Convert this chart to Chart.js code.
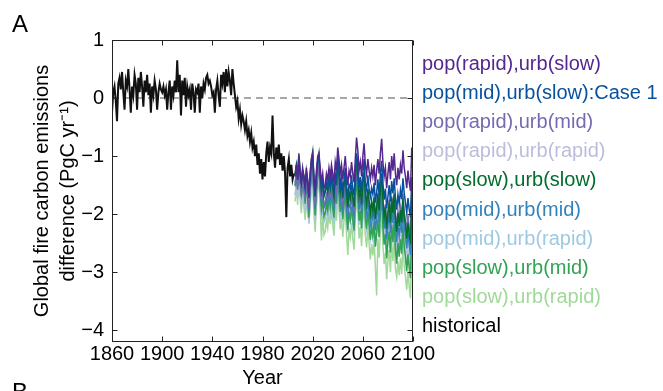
<!DOCTYPE html>
<html>
<head>
<meta charset="utf-8">
<script src="https://cdn.jsdelivr.net/npm/chart.js@4.4.1/dist/chart.umd.min.js"></script>
<style>
html, body { margin: 0; padding: 0; background: #fff; }
#wrap { position: relative; width: 663px; height: 391px; }
</style>
</head>
<body>
<div id="wrap"><canvas id="myChart" width="663" height="391"></canvas></div>
<script>
// Step 1: data (PgC/yr difference)
const histStart = 1860;
const historical = [
    -0.25, 0.10, 0.20, -0.05, -0.40, 0.25, 0.35, 0.15, 0.45, 0.10,
    -0.20, 0.30, 0.20, 0.50, 0.15, -0.25, 0.20, 0.05, 0.40, 0.25,
    -0.20, 0.35, 0.10, 0.45, 0.20, -0.15, 0.30, 0.10, 0.40, 0.05,
    0.25, -0.25, 0.20, 0.05, 0.30, 0.15, -0.20, 0.10, 0.25, 0.15,
    0.10, 0.20, 0.05, 0.15, -0.20, 0.10, 0.30, -0.20, 0.20, 0.05,
    0.30, 0.10, 0.65, 0.10, 0.40, -0.30, 0.30, 0.05, 0.35, -0.15,
    0.20, 0.05, 0.15, -0.20, 0.25, 0.10, -0.25, 0.15, 0.10, 0.25,
    -0.25, 0.20, 0.00, 0.25, 0.15, 0.35, 0.40, 0.25, 0.30, 0.20,
    0.05, 0.10, -0.25, 0.15, 0.30, 0.05, -0.15, 0.40, 0.25, 0.45,
    0.10, 0.50, 0.20, 0.45, 0.30, 0.05, 0.50, 0.25, 0.05, -0.15,
    -0.05, -0.35, -0.20, -0.45, -0.30, -0.40, -0.55, -0.40, -0.65, -0.55,
    -0.75, -0.60, -0.85, -0.75, -1.00, -0.80, -1.15, -0.95, -1.30, -1.05,
    -1.40, -1.10, -1.35, -0.95, -0.75, -1.10, -0.85, -0.95, -0.30, -0.95,
    -1.20, -0.85, -1.05, -0.80, -1.15, -0.95, -1.25, -1.00, -1.30, -2.05,
    -1.20, -1.05, -1.35, -1.15, -1.40, -1.30
];

const scenStart = 2006;
const rapidSlow = [
    -1.35, -1.15, -1.40, -1.00, -1.30, -1.45, -1.20, -1.35, -1.55, -1.25,
    -1.40, -1.70, -1.30, -1.05, -0.95, -1.35, -1.60, -1.25, -1.00, -0.95,
    -1.20, -1.45, -1.30, -1.55, -1.50, -1.30, -1.40, -1.20, -1.35, -1.15,
    -1.30, -1.45, -1.10, -1.25, -0.85, -1.05, -1.30, -1.15, -1.40, -1.20,
    -1.00, -1.30, -1.50, -1.25, -1.35, -1.10, -1.30, -1.45, -1.05, -0.68,
    -0.90, -1.25, -1.10, -1.35, -1.00, -0.78, -1.15, -1.30, -1.05, -1.25,
    -1.40, -1.20, -1.35, -1.15, -1.50, -1.25, -1.05, -1.30, -0.95, -0.70,
    -1.10, -1.35, -1.20, -1.55, -1.30, -1.10, -1.40, -1.00, -1.25, -0.95,
    -1.30, -1.50, -1.20, -1.40, -1.15, -1.30, -0.90, -1.20, -1.35, -1.55,
    -1.25, -1.45, -1.60, -0.85, -1.30
];
const midSlow = [
    -1.33, -1.18, -1.41, -1.04, -1.30, -1.46, -1.26, -1.38, -1.56, -1.31,
    -1.44, -1.70, -1.38, -1.13, -1.00, -1.42, -1.66, -1.36, -1.10, -1.05,
    -1.30, -1.55, -1.45, -1.65, -1.60, -1.42, -1.56, -1.33, -1.50, -1.27,
    -1.45, -1.64, -1.30, -1.40, -1.00, -1.23, -1.52, -1.36, -1.58, -1.42,
    -1.20, -1.50, -1.70, -1.49, -1.55, -1.33, -1.57, -1.68, -1.28, -0.95,
    -1.15, -1.55, -1.36, -1.62, -1.30, -1.05, -1.47, -1.58, -1.33, -1.57,
    -1.70, -1.55, -1.66, -1.46, -1.80, -1.63, -1.40, -1.68, -1.30, -1.08,
    -1.46, -1.75, -1.56, -1.90, -1.70, -1.50, -1.78, -1.43, -1.64, -1.38,
    -1.72, -1.92, -1.66, -1.82, -1.58, -1.74, -1.38, -1.64, -1.80, -1.98,
    -1.72, -1.92, -2.06, -1.36, -1.78
];
const rapidMid = [
    -1.50, -1.33, -1.55, -1.17, -1.44, -1.64, -1.42, -1.53, -1.75, -1.47,
    -1.62, -1.90, -1.55, -1.25, -1.18, -1.60, -1.86, -1.55, -1.28, -1.18,
    -1.52, -1.74, -1.62, -1.85, -1.79, -1.66, -1.73, -1.52, -1.71, -1.46,
    -1.65, -1.85, -1.48, -1.60, -1.22, -1.47, -1.69, -1.57, -1.80, -1.63,
    -1.41, -1.76, -1.93, -1.70, -1.78, -1.55, -1.80, -1.92, -1.50, -1.15,
    -1.37, -1.78, -1.62, -1.85, -1.48, -1.28, -1.70, -1.82, -1.56, -1.81,
    -1.97, -1.80, -1.92, -1.70, -2.06, -1.88, -1.63, -1.93, -1.52, -1.30,
    -1.72, -2.03, -1.83, -2.20, -1.97, -1.75, -2.07, -1.69, -1.91, -1.63,
    -2.00, -2.21, -1.94, -2.11, -1.88, -2.03, -1.65, -1.97, -2.09, -2.30,
    -2.02, -2.23, -2.38, -1.64, -2.07
];
const rapidRapid = [
    -1.66, -1.48, -1.72, -1.31, -1.60, -1.81, -1.58, -1.70, -1.93, -1.64,
    -1.82, -2.12, -1.75, -1.43, -1.36, -1.80, -2.07, -1.73, -1.45, -1.36,
    -1.72, -1.96, -1.84, -2.07, -2.02, -1.85, -2.00, -1.73, -1.90, -1.72,
    -1.90, -2.10, -1.71, -1.84, -1.45, -1.71, -1.95, -1.82, -2.06, -1.87,
    -1.65, -2.03, -2.21, -1.97, -2.04, -1.81, -2.08, -2.20, -1.76, -1.40,
    -1.64, -2.07, -1.86, -2.14, -1.79, -1.56, -2.01, -2.14, -1.86, -2.12,
    -2.29, -2.10, -2.23, -2.01, -2.40, -2.21, -1.95, -2.27, -1.84, -1.60,
    -2.05, -2.37, -2.16, -2.55, -2.32, -2.10, -2.44, -2.03, -2.27, -1.98,
    -2.38, -2.60, -2.30, -2.49, -2.25, -2.42, -2.01, -2.34, -2.47, -2.69,
    -2.41, -2.63, -2.80, -2.02, -2.47
];
const slowSlow = [
    -1.30, -1.15, -1.35, -0.95, -1.25, -1.44, -1.25, -1.33, -1.55, -1.20,
    -1.45, -1.72, -1.30, -1.05, -0.92, -1.45, -1.70, -1.32, -1.08, -0.95,
    -1.35, -1.60, -1.42, -1.70, -1.62, -1.50, -1.62, -1.38, -1.55, -1.33,
    -1.56, -1.71, -1.35, -1.50, -1.05, -1.33, -1.62, -1.45, -1.72, -1.50,
    -1.36, -1.66, -1.88, -1.60, -1.72, -1.50, -1.72, -1.87, -1.45, -1.02,
    -1.35, -1.70, -1.55, -1.83, -1.45, -1.28, -1.66, -1.83, -1.57, -1.78,
    -1.98, -1.77, -1.94, -1.72, -2.08, -1.88, -1.66, -1.93, -1.55, -1.30,
    -1.78, -2.05, -1.88, -2.25, -1.98, -1.83, -2.14, -1.72, -1.98, -1.66,
    -2.08, -2.30, -1.98, -2.20, -1.93, -2.14, -1.73, -2.05, -2.20, -2.42,
    -2.15, -2.36, -2.52, -1.73, -2.20
];
const midMid = [
    -1.46, -1.29, -1.51, -1.12, -1.41, -1.61, -1.39, -1.50, -1.72, -1.44,
    -1.62, -1.94, -1.56, -1.24, -1.17, -1.62, -1.89, -1.55, -1.27, -1.18,
    -1.54, -1.78, -1.66, -1.89, -1.84, -1.68, -1.83, -1.56, -1.73, -1.55,
    -1.73, -1.93, -1.54, -1.67, -1.28, -1.54, -1.78, -1.65, -1.89, -1.70,
    -1.50, -1.88, -2.06, -1.82, -1.89, -1.66, -1.93, -2.05, -1.61, -1.25,
    -1.49, -1.92, -1.71, -1.99, -1.64, -1.42, -1.87, -2.00, -1.72, -1.98,
    -2.16, -1.97, -2.10, -1.88, -2.27, -2.08, -1.82, -2.14, -1.71, -1.47,
    -1.93, -2.25, -2.04, -2.43, -2.20, -1.98, -2.32, -1.91, -2.15, -1.86,
    -2.26, -2.48, -2.18, -2.37, -2.13, -2.32, -1.91, -2.24, -2.37, -2.59,
    -2.31, -2.53, -2.70, -1.92, -2.37
];
const midRapid = [
    -1.67, -1.47, -1.72, -1.30, -1.61, -1.84, -1.59, -1.73, -1.96, -1.65,
    -1.84, -2.16, -1.77, -1.44, -1.36, -1.85, -2.12, -1.77, -1.48, -1.38,
    -1.77, -2.02, -1.89, -2.14, -2.08, -1.91, -2.06, -1.79, -1.97, -1.77,
    -1.96, -2.17, -1.77, -1.90, -1.49, -1.77, -2.02, -1.88, -2.13, -1.94,
    -1.73, -2.12, -2.31, -2.06, -2.14, -1.91, -2.18, -2.31, -1.85, -1.47,
    -1.74, -2.18, -1.97, -2.26, -1.89, -1.66, -2.12, -2.26, -1.97, -2.24,
    -2.43, -2.24, -2.38, -2.14, -2.55, -2.35, -2.08, -2.41, -1.96, -1.72,
    -2.20, -2.53, -2.31, -2.72, -2.47, -2.26, -2.60, -2.18, -2.43, -2.12,
    -2.55, -2.78, -2.47, -2.66, -2.41, -2.61, -2.19, -2.53, -2.67, -2.90,
    -2.61, -2.84, -3.00, -2.20, -2.67
];
const slowMid = [
    -1.52, -1.34, -1.58, -1.10, -1.46, -1.70, -1.47, -1.59, -1.82, -1.48,
    -1.72, -2.06, -1.60, -1.30, -1.15, -1.73, -2.02, -1.61, -1.30, -1.22,
    -1.63, -1.92, -1.75, -2.04, -1.98, -1.82, -1.94, -1.70, -1.88, -1.63,
    -1.89, -2.06, -1.65, -1.82, -1.32, -1.66, -1.96, -1.78, -2.08, -1.84,
    -1.67, -2.03, -2.27, -1.97, -2.09, -1.87, -2.10, -2.28, -1.80, -1.35,
    -1.70, -2.11, -1.94, -2.24, -1.81, -1.63, -2.06, -2.25, -1.95, -2.19,
    -2.44, -2.20, -2.38, -2.14, -2.56, -2.33, -2.09, -2.39, -1.97, -1.66,
    -2.22, -2.52, -2.34, -2.76, -2.46, -2.30, -2.66, -2.18, -2.48, -2.12,
    -2.61, -2.85, -2.49, -2.73, -2.43, -2.68, -2.20, -2.56, -2.74, -2.98,
    -2.69, -2.93, -3.10, -2.21, -2.75
];
const slowRapid = [
    -1.78, -1.52, -1.84, -1.30, -1.72, -1.98, -1.65, -1.86, -2.10, -1.72,
    -2.00, -2.10, -1.88, -1.55, -1.42, -2.00, -2.30, -1.88, -1.55, -1.48,
    -1.90, -2.45, -2.03, -2.36, -2.30, -2.11, -2.24, -1.97, -2.17, -1.90,
    -2.18, -2.37, -1.91, -2.11, -1.65, -1.93, -2.26, -2.06, -2.39, -2.12,
    -1.94, -2.34, -2.70, -2.27, -2.40, -2.15, -2.42, -2.61, -2.09, -1.68,
    -1.96, -2.42, -2.22, -2.55, -2.09, -1.89, -2.37, -2.57, -2.24, -2.50,
    -2.78, -2.51, -2.71, -2.45, -2.91, -3.40, -2.42, -2.75, -2.29, -1.98,
    -2.53, -2.86, -2.66, -3.12, -2.80, -2.61, -3.00, -2.48, -2.81, -2.42,
    -2.95, -3.08, -2.81, -3.05, -2.75, -3.03, -2.50, -2.89, -3.09, -3.30,
    -2.98, -3.25, -3.45, -2.52, -3.00
];

// legend order, top to bottom
const scenarioLabels = [
    'pop(rapid),urb(slow)',
    'pop(mid),urb(slow):Case 1',
    'pop(rapid),urb(mid)',
    'pop(rapid),urb(rapid)',
    'pop(slow),urb(slow)',
    'pop(mid),urb(mid)',
    'pop(mid),urb(rapid)',
    'pop(slow),urb(mid)',
    'pop(slow),urb(rapid)',
    'historical'
];
const scenarioSeries = [rapidSlow, midSlow, rapidMid, rapidRapid, slowSlow, midMid, midRapid, slowMid, slowRapid];
const scenarioColors = ['#54278f', '#08519c', '#756bb1', '#bcbddc', '#006d2c', '#3182bd', '#9ecae1', '#31a354', '#a1d99b', '#000000'];
// higher = drawn first (underneath)
const scenarioOrder = [2, 3, 5, 8, 4, 6, 9, 7, 10];

const xTicks = [1860, 1900, 1940, 1980, 2020, 2060, 2100];
const yTicks = [-4, -3, -2, -1, 0, 1];

const FONT = 'Liberation Sans, Arial, Helvetica, sans-serif';

function toPoints(start, values) {
    return values.map((v, i) => ({ x: start + i, y: v }));
}

// Step 2: datasets
const datasets = [];
datasets.push({
    label: 'zero',
    data: [{ x: 1860, y: 0 }, { x: 2100, y: 0 }],
    borderColor: '#8a8a8a',
    borderWidth: 1.5,
    borderDash: [7, 5],
    order: 20
});
scenarioSeries.forEach((arr, i) => {
    datasets.push({
        label: scenarioLabels[i],
        data: toPoints(scenStart, arr),
        borderColor: scenarioColors[i],
        borderWidth: 1.5,
        order: scenarioOrder[i]
    });
});
datasets.push({
    label: 'historical',
    data: toPoints(histStart, historical),
    borderColor: '#111111',
    borderWidth: 2,
    order: 1
});

// box, inward ticks, text legend and panel letters
const framePlugin = {
    id: 'frame',
    afterDraw(chart) {
        const ctx = chart.ctx;
        const a = chart.chartArea;
        const xs = chart.scales.x, ys = chart.scales.y;
        const L = Math.round(a.left) + 0.5, R = Math.round(a.right) - 0.5;
        const T = Math.round(a.top) + 0.5, B = Math.round(a.bottom) - 0.5;
        const tk = 5;
        ctx.save();
        ctx.strokeStyle = '#222';
        ctx.lineWidth = 1;
        ctx.strokeRect(L, T, R - L, B - T);
        ctx.beginPath();
        xTicks.forEach(v => {
            const px = Math.round(xs.getPixelForValue(v)) + 0.5;
            ctx.moveTo(px, B); ctx.lineTo(px, B - tk);
            ctx.moveTo(px, T); ctx.lineTo(px, T + tk);
        });
        yTicks.forEach(v => {
            const py = Math.round(ys.getPixelForValue(v)) + 0.5;
            ctx.moveTo(L, py); ctx.lineTo(L + tk, py);
            ctx.moveTo(R, py); ctx.lineTo(R - tk, py);
        });
        ctx.stroke();

        // legend as coloured text
        ctx.font = '20px ' + FONT;
        ctx.textBaseline = 'middle';
        ctx.textAlign = 'left';
        scenarioLabels.forEach((lab, i) => {
            ctx.fillStyle = scenarioColors[i];
            ctx.fillText(lab, 422, 64 + i * 29.2);
        });

        // panel letters
        ctx.fillStyle = '#000';
        ctx.font = '24px ' + FONT;
        ctx.textBaseline = 'alphabetic';
        ctx.fillText('A', 12, 32);
        ctx.fillText('B', 12, 400);
        ctx.restore();
    }
};

const config = {
    type: 'line',
    data: { datasets: datasets },
    options: {
        responsive: false,
        animation: false,
        devicePixelRatio: 1,
        layout: { padding: { left: 0, top: 40, right: 250, bottom: 0 } },
        elements: {
            point: { radius: 0 },
            line: { tension: 0 }
        },
        plugins: {
            legend: { display: false },
            tooltip: { enabled: false }
        },
        scales: {
            x: {
                type: 'linear',
                min: 1860,
                max: 2100,
                afterBuildTicks: s => { s.ticks = xTicks.map(v => ({ value: v })); },
                afterFit: s => { s.height = 49; },
                grid: { display: false, drawTicks: false },
                border: { display: false },
                ticks: {
                    color: '#000',
                    padding: 0,
                    maxRotation: 0,
                    autoSkip: false,
                    font: { family: FONT, size: 20 },
                    callback: v => String(v)
                },
                title: {
                    display: true,
                    text: 'Year',
                    color: '#000',
                    font: { family: FONT, size: 20 },
                    padding: { top: 0, bottom: 1 }
                }
            },
            y: {
                min: -4.2,
                max: 1,
                afterBuildTicks: s => { s.ticks = yTicks.map(v => ({ value: v })); },
                afterFit: s => { s.width = 112; },
                grid: { display: false, drawTicks: false },
                border: { display: false },
                ticks: {
                    color: '#000',
                    padding: 8,
                    font: { family: FONT, size: 20 },
                    callback: v => (v < 0 ? '\u2212' + Math.abs(v) : String(v))
                },
                title: {
                    display: true,
                    text: ['Global fire carbon emissions', 'difference (PgC yr\u207B\u00B9)'],
                    color: '#000',
                    font: { family: FONT, size: 20, lineHeight: 1.3 },
                    padding: { top: 29, bottom: 0 }
                }
            }
        }
    },
    plugins: [framePlugin]
};

const ctx = document.getElementById('myChart').getContext('2d');
new Chart(ctx, config);
</script>
</body>
</html>
